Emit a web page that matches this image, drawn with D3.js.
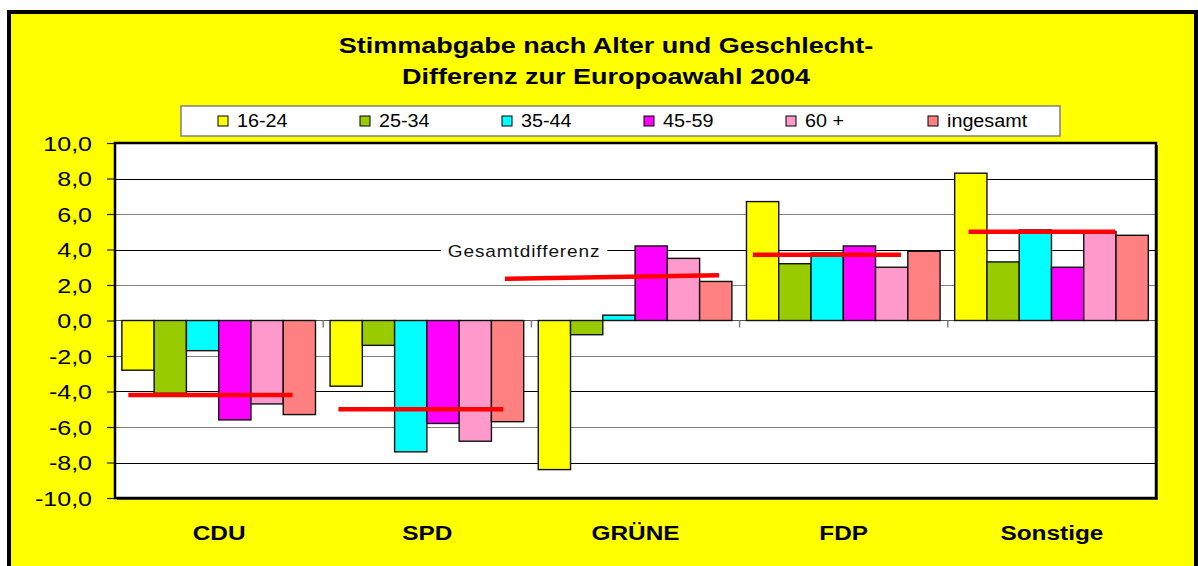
<!DOCTYPE html>
<html>
<head>
<meta charset="utf-8">
<script src="https://cdn.jsdelivr.net/npm/d3@7"></script>
<style>
  body { margin: 0; background: #fff; }
  svg text { font-family: "Liberation Sans", Arial, sans-serif; }
</style>
</head>
<body>
<svg width="1198" height="566"></svg>
<script>
// Data
var parties = ["CDU", "SPD", "GRÜNE", "FDP", "Sonstige"];
var ageGroups = ["16-24", "25-34", "35-44", "45-59", "60 +", "ingesamt"];
var v1624 = [-2.8, -3.7, -8.4, 6.7, 8.3];
var v2534 = [-4.1, -1.4, -0.8, 3.2, 3.3];
var v3544 = [-1.7, -7.4, 0.3, 3.8, 5.1];
var v4559 = [-5.6, -5.8, 4.2, 4.2, 3.0];
var v60 = [-4.7, -6.8, 3.5, 3.0, 5.0];
var vAll = [-5.3, -5.7, 2.2, 3.9, 4.8];
var colors = ["#ffff00", "#99cc00", "#00ffff", "#ff00ff", "#ff99cc", "#ff8080"];
// red "Gesamtdifferenz" marks: value at left / right end, extent in category units
var gesamtFrom = [-4.2, -5.0, 2.35, 3.7, 5.0];
var gesamtTo = [-4.2, -5.0, 2.55, 3.7, 5.0];
var gesamtX0 = [0.064, 1.073, 1.873, 3.064, 4.10];
var gesamtX1 = [0.853, 1.865, 2.901, 3.775, 4.805];
var yTicks = [-10, -8, -6, -4, -2, 0, 2, 4, 6, 8, 10];

var seriesValues = [v1624, v2534, v3544, v4559, v60, vAll];

var svg = d3.select("svg"),
  plot = { left: 115, top: 143, right: 1156, bottom: 498 },
  pw = plot.right - plot.left,
  ph = plot.bottom - plot.top;

var de = d3.formatLocale({ decimal: ",", thousands: ".", grouping: [3], currency: ["", "€"], minus: "-" });
var fmt = de.format(".1f");

// outer yellow chart area
svg.append("rect")
  .attr("x", 9).attr("y", 12)
  .attr("width", 1187).attr("height", 600)
  .attr("fill", "#ffff00")
  .attr("stroke", "#000")
  .attr("stroke-width", 4);

// title
var title = ["Stimmabgabe nach Alter und Geschlecht-", "Differenz zur Europoawahl 2004"];
svg.selectAll(".title")
  .data(title)
  .enter()
  .append("text")
  .attr("class", "title")
  .attr("transform", function (d, i) { return "translate(606," + (53 + i * 31) + ") scale(1.2,1)"; })
  .attr("text-anchor", "middle")
  .attr("font-size", "22.5px")
  .attr("font-weight", "bold")
  .text(function (d) { return d; });

// legend
var legendG = svg.append("g");
legendG.append("rect")
  .attr("x", 181).attr("y", 106)
  .attr("width", 879).attr("height", 30)
  .attr("fill", "#fff")
  .attr("stroke", "#808080")
  .attr("stroke-width", 1.5);

var legendItem = legendG.selectAll(".leg")
  .data(ageGroups)
  .enter()
  .append("g")
  .attr("class", "leg")
  .attr("transform", function (d, i) { return "translate(" + (218 + i * 142) + ",116)"; });

legendItem.append("rect")
  .attr("width", 10).attr("height", 10)
  .attr("fill", function (d, i) { return colors[i]; })
  .attr("stroke", "#000")
  .attr("stroke-width", 1);

legendItem.append("text")
  .attr("transform", "translate(19,10.5) scale(1.13,1)")
  .attr("font-size", "17.5px")
  .text(function (d) { return d; });

// scales
var x0 = d3.scaleBand().domain(parties).range([plot.left, plot.right]);
var x1 = d3.scaleBand().domain(ageGroups).range([x0.bandwidth() * 0.033, x0.bandwidth() * 0.963]);
var xc = d3.scaleLinear().domain([0, parties.length]).range([plot.left, plot.right]);
var y = d3.scaleLinear().domain([-10, 10]).range([plot.bottom, plot.top]);

// plot area
svg.append("rect")
  .attr("x", plot.left + 2).attr("y", plot.top + 2)
  .attr("width", pw).attr("height", ph)
  .attr("fill", "#555");
svg.append("rect")
  .attr("x", plot.left).attr("y", plot.top)
  .attr("width", pw).attr("height", ph)
  .attr("fill", "#fff");

// gridlines
svg.append("g")
  .selectAll("line")
  .data(yTicks.filter(function (t) { return t !== 0 && Math.abs(t) !== 10; }))
  .enter()
  .append("line")
  .attr("x1", plot.left).attr("x2", plot.right)
  .attr("y1", function (d) { return Math.round(y(d)) + 0.5; })
  .attr("y2", function (d) { return Math.round(y(d)) + 0.5; })
  .attr("stroke", function (d) { return d % 4 === 0 ? "#000" : "#808080"; })
  .attr("stroke-width", 1.2);

// y axis
var yAxis = svg.append("g")
  .attr("transform", "translate(" + plot.left + ",0)")
  .call(d3.axisLeft(y).tickValues(yTicks).tickSize(8).tickFormat(fmt));
yAxis.select(".domain").remove();
yAxis.selectAll("line").attr("stroke", "#222").attr("stroke-width", 1.2);
yAxis.selectAll("text")
  .attr("x", null).attr("dy", null)
  .attr("transform", "translate(-23,7) scale(1.25,1)")
  .attr("text-anchor", "end")
  .attr("font-size", "20px")
  .attr("fill", "#000")
  .attr("font-family", "'Liberation Sans', Arial, sans-serif");

// category axis at zero
svg.append("line")
  .attr("x1", plot.left).attr("x2", plot.right)
  .attr("y1", y(0)).attr("y2", y(0))
  .attr("stroke", "#555").attr("stroke-width", 1.2);
svg.append("g")
  .selectAll("line")
  .data(parties.slice(1))
  .enter()
  .append("line")
  .attr("x1", function (d) { return x0(d); })
  .attr("x2", function (d) { return x0(d); })
  .attr("y1", y(0)).attr("y2", y(0) + 7)
  .attr("stroke", "#808080").attr("stroke-width", 1.5);

// bars
var group = svg.append("g")
  .selectAll("g")
  .data(parties)
  .enter()
  .append("g")
  .attr("transform", function (d) { return "translate(" + x0(d) + ",0)"; });

group.selectAll("rect")
  .data(function (d, pi) {
    return ageGroups.map(function (a, si) { return { age: a, si: si, value: seriesValues[si][pi] }; });
  })
  .enter()
  .append("rect")
  .attr("x", function (d) { return x1(d.age); })
  .attr("width", x1.bandwidth())
  .attr("y", function (d) { return y(Math.max(0, d.value)); })
  .attr("height", function (d) { return Math.abs(y(d.value) - y(0)); })
  .attr("fill", function (d) { return colors[d.si]; })
  .attr("stroke", "#111")
  .attr("stroke-width", 1.4);

// red Gesamtdifferenz lines
svg.append("g")
  .selectAll("line")
  .data(parties)
  .enter()
  .append("line")
  .attr("x1", function (d, i) { return xc(gesamtX0[i]); })
  .attr("x2", function (d, i) { return xc(gesamtX1[i]); })
  .attr("y1", function (d, i) { return y(gesamtFrom[i]); })
  .attr("y2", function (d, i) { return y(gesamtTo[i]); })
  .attr("stroke", "#ff0000")
  .attr("stroke-width", 4.5);

// Gesamtdifferenz label on white background
var lab = svg.append("g");
var labText = lab.append("text")
  .attr("transform", "translate(" + xc(1.965) + "," + (y(4) + 7) + ") scale(1.12,1)")
  .attr("text-anchor", "middle")
  .attr("font-size", "17px")
  .attr("letter-spacing", "0.8px")
  .attr("fill", "#111")
  .text("Gesamtdifferenz");
var bb = lab.node().getBBox();
lab.insert("rect", "text")
  .attr("x", bb.x - 7).attr("y", y(4) - 6)
  .attr("width", bb.width + 14).attr("height", 12)
  .attr("fill", "#fff");

// plot border
svg.append("rect")
  .attr("x", plot.left).attr("y", plot.top)
  .attr("width", pw).attr("height", ph)
  .attr("fill", "none")
  .attr("stroke", "#000")
  .attr("stroke-width", 2.5);

// category labels
svg.append("g")
  .selectAll("text")
  .data(parties)
  .enter()
  .append("text")
  .attr("transform", function (d) { return "translate(" + (x0(d) + x0.bandwidth() / 2) + ",540) scale(1.25,1)"; })
  .attr("text-anchor", "middle")
  .attr("font-size", "19.5px")
  .attr("font-weight", "bold")
  .text(function (d) { return d; });
</script>
</body>
</html>
